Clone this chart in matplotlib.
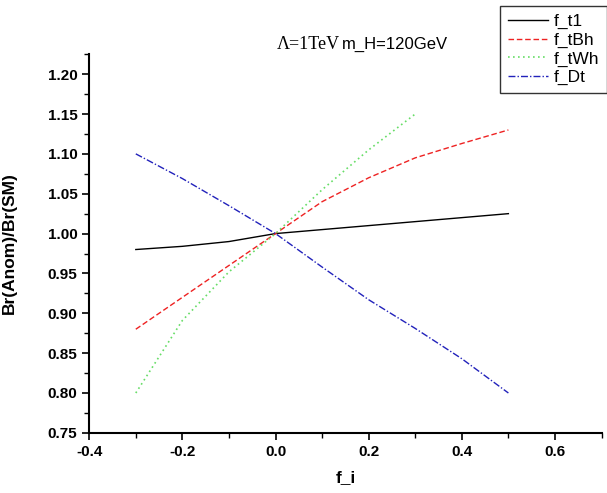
import matplotlib
matplotlib.use("Agg")
import matplotlib.pyplot as plt
from matplotlib.ticker import MultipleLocator, FormatStrFormatter

plt.rcParams['font.family'] = ['Liberation Sans', 'DejaVu Sans']

# data
x_t1 = [-0.3, -0.2, -0.1, 0.0, 0.1, 0.2, 0.3, 0.4, 0.5]
f_t1 = [0.980, 0.984, 0.990, 1.000, 1.005, 1.010, 1.015, 1.020, 1.025]
x_tBh = [-0.3, -0.2, -0.1, 0.0, 0.1, 0.2, 0.3, 0.4, 0.5]
f_tBh = [0.880, 0.920, 0.960, 1.000, 1.040, 1.070, 1.095, 1.113, 1.130]
x_tWh = [-0.3, -0.2, -0.1, 0.0, 0.1, 0.2, 0.3]
f_tWh = [0.800, 0.891, 0.952, 1.000, 1.055, 1.105, 1.150]
x_Dt = [-0.3, -0.2, -0.1, 0.0, 0.1, 0.2, 0.3, 0.4, 0.5]
f_Dt = [1.100, 1.069, 1.035, 1.000, 0.958, 0.917, 0.881, 0.843, 0.800]

labels = ["f_t1", "f_tBh", "f_tWh", "f_Dt"]

fig = plt.figure(figsize=(6.07, 4.93), dpi=100)
ax = fig.add_axes([0.147, 0.122, 0.844, 0.768])

l1, = ax.plot(x_t1, f_t1, color='black', lw=1.0, ls='-')
l2, = ax.plot(x_tBh, f_tBh, color='#ee2222', lw=1.0, ls=(0, (4, 2)))
l3, = ax.plot(x_tWh, f_tWh, color='#66dd66', lw=1.2, ls=(0, (1, 2)))
l4, = ax.plot(x_Dt, f_Dt, color='#2222bb', lw=1.0, ls=(0, (5, 1.5, 1, 1.5)))

ax.set_xlim(-0.4, 0.7)
ax.set_ylim(0.75, 1.225)
ax.xaxis.set_major_locator(MultipleLocator(0.2))
ax.xaxis.set_minor_locator(MultipleLocator(0.1))
ax.yaxis.set_major_locator(MultipleLocator(0.05))
ax.yaxis.set_minor_locator(MultipleLocator(0.025))
ax.xaxis.set_major_formatter(FormatStrFormatter('%.1f'))
ax.yaxis.set_major_formatter(FormatStrFormatter('%.2f'))
ax.set_yticks([0.75 + 0.05 * i for i in range(10)])

for s in ['top', 'right']:
    ax.spines[s].set_visible(False)
for s in ['left', 'bottom']:
    ax.spines[s].set_linewidth(1.5)
ax.tick_params(which='major', direction='out', length=5, width=1.2, labelsize=11)
ax.tick_params(which='minor', direction='out', length=3.5, width=1.0)
for lab in ax.get_xticklabels() + ax.get_yticklabels():
    lab.set_fontweight('bold')

ax.set_xlabel("f_i", fontsize=12.5, fontweight='bold')
ax.set_ylabel("Br(Anom)/Br(SM)", fontsize=12.5, fontweight='bold')
ax.xaxis.set_label_coords(0.5, -0.098)
ax.yaxis.set_label_coords(-0.141, 0.5)

fig.text(0.456, 0.909, "Λ=1TeV", fontsize=13, family=['Liberation Serif', 'DejaVu Serif'], ha='left', va='center')
fig.text(0.563, 0.909, "m_H=120GeV", fontsize=12, ha='left', va='center')

leg = fig.legend([l1, l2, l3, l4], labels, loc='upper right', bbox_to_anchor=(1.0, 0.988),
                 frameon=True, fancybox=False, edgecolor='black', fontsize=12.5,
                 handlelength=2.3, handletextpad=0.35, borderpad=0.45, labelspacing=0.2,
                 borderaxespad=0)
leg.get_frame().set_linewidth(1.0)

fig.savefig("out.png", dpi=100)
